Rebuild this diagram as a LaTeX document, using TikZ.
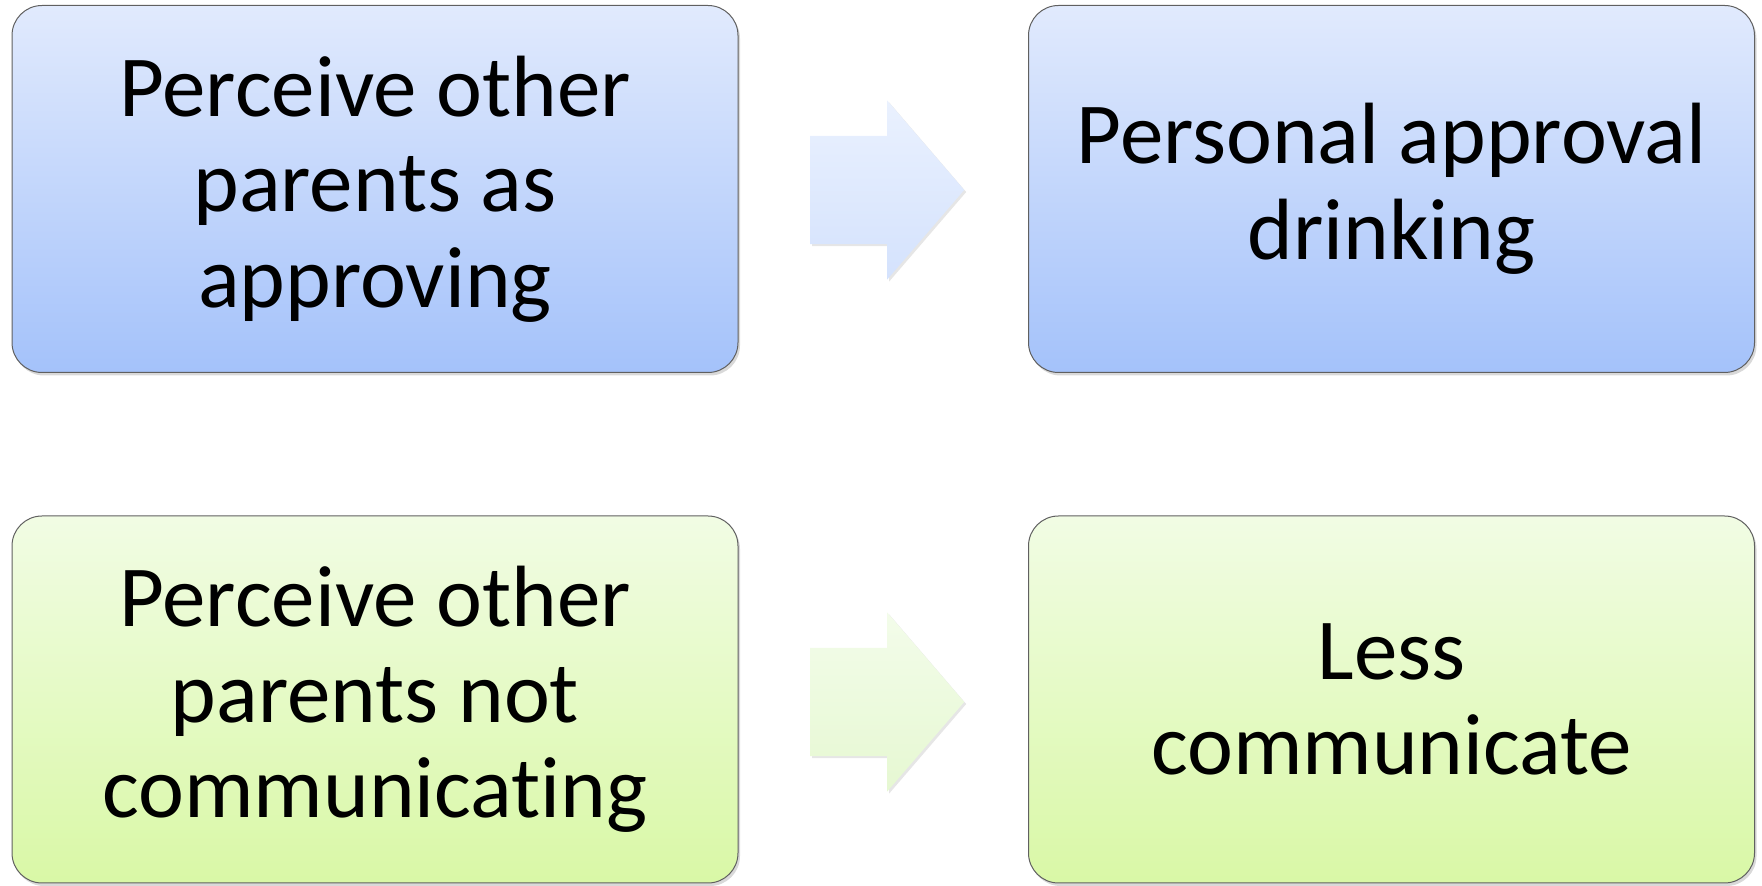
\documentclass[tikz,border=0pt]{standalone}
\usepackage{fontspec}
\setmainfont[Ligatures=NoCommon]{Carlito}
\usetikzlibrary{shapes.arrows,shadows,positioning}

\definecolor{bluetop}{HTML}{E1EAFD}
\definecolor{bluebot}{HTML}{A4C2FA}
\definecolor{greentop}{HTML}{F1FCE4}
\definecolor{greenbot}{HTML}{D9F8A6}
\definecolor{arrbluetop}{HTML}{EAF1FE}
\definecolor{arrbluebot}{HTML}{D4E2FD}
\definecolor{arrgreentop}{HTML}{F3FCEA}
\definecolor{arrgreenbot}{HTML}{E6F8D2}

\tikzset{
  box/.style={rectangle, rounded corners=30pt, draw=gray!75!black, line width=1pt,
    minimum width=726pt, minimum height=367pt, align=center, inner sep=0pt,
    font=\fontsize{87}{95.5}\selectfont,
    drop shadow={opacity=0.3, shadow xshift=2pt, shadow yshift=-3pt}},
  bluebox/.style={box, top color=bluetop, bottom color=bluebot},
  greenbox/.style={box, top color=greentop, bottom color=greenbot},
  flow/.style={single arrow, draw=none, inner sep=0pt, text width=0pt,
    text height=54pt, text depth=54pt, minimum height=154pt,
    single arrow head extend=35.5pt, single arrow tip angle=98.6, anchor=tail,
    drop shadow={opacity=0.2, shadow xshift=2pt, shadow yshift=-2pt}},
  blueflow/.style={flow, top color=arrbluetop, bottom color=arrbluebot},
  greenflow/.style={flow, top color=arrgreentop, bottom color=arrgreenbot}
}

\begin{document}
\begin{tikzpicture}[x=1pt,y=1pt]
  \useasboundingbox (0,0) rectangle (1762,886);

  \node[bluebox] (approving) at (375,697) {Perceive other\\parents as\\approving};
  \node[bluebox] (drinking) at (1391.5,697) {Personal approval\\drinking};
  \node[greenbox] (notcomm) at (375,186.5) {Perceive other\\parents not\\communicating};
  \node[greenbox] (less) at (1391.5,186.5) {Less\\communicate};

  \node[blueflow] (arr1) at (810,696) {};
  \node[greenflow] (arr2) at (810,184) {};

\end{tikzpicture}
\end{document}
